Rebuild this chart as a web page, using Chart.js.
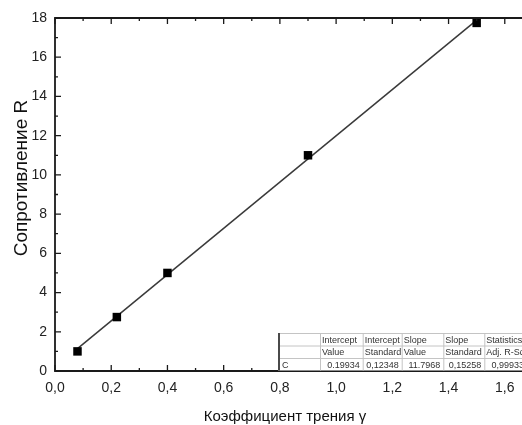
<!DOCTYPE html>
<html>
<head>
<meta charset="utf-8">
<script src="https://cdn.jsdelivr.net/npm/chart.js@4.4.0/dist/chart.umd.min.js"></script>
<style>
html, body { margin: 0; padding: 0; background: #fff; overflow: hidden; }
#wrap { width: 522px; height: 425px; overflow: hidden; }
</style>
</head>
<body>
<div id="wrap"><canvas id="fitChart" width="600" height="425"></canvas></div>
<script>
// measured points: friction coefficient vs resistance
const gammaValues = [0.08, 0.22, 0.4, 0.9, 1.5];
const resistValues = [1.0, 2.75, 5.0, 11.0, 17.75];
// linear fit line, end points
const fitX = [0.08, 1.5];
const fitY = [1.14, 17.89];
// tick labels
const xTicks = [0, 0.2, 0.4, 0.6, 0.8, 1.0, 1.2, 1.4, 1.6, 1.8];
const yTicks = [0, 2, 4, 6, 8, 10, 12, 14, 16, 18];
// Origin fit table
const tableHead1 = ["", "Intercept", "Intercept", "Slope", "Slope", "Statistics"];
const tableHead2 = ["", "Value", "Standard", "Value", "Standard", "Adj. R-Square"];
const tableRow = ["C", "0.19934", "0,12348", "11.7968", "0,15258", "0,99933"];

const xTitle = "Коэффициент трения γ";
const yTitle = "Сопротивление R";

const FONT = "'Liberation Sans', Arial, sans-serif";

// frame, inward ticks, fit table and axis titles
const decorPlugin = {
    id: 'decor',
    afterDatasetsDraw(chart) {
        const ctx = chart.ctx;
        const a = chart.chartArea;
        const sx = chart.scales.x, sy = chart.scales.y;
        ctx.save();
        ctx.strokeStyle = '#1a1a1a';
        ctx.lineWidth = 1.8;
        ctx.beginPath();
        ctx.moveTo(a.left, a.top); ctx.lineTo(a.left, a.bottom);
        ctx.lineTo(a.right, a.bottom); ctx.lineTo(a.right, a.top);
        ctx.closePath();
        ctx.stroke();

        ctx.lineWidth = 1.3;
        ctx.beginPath();
        for (let i = 0; i <= 18; i++) {
            const px = sx.getPixelForValue(i / 10);
            const len = i % 2 === 0 ? 6 : 3;
            ctx.moveTo(px, a.bottom); ctx.lineTo(px, a.bottom - len);
            ctx.moveTo(px, a.top); ctx.lineTo(px, a.top + len);
        }
        for (let j = 0; j <= 18; j++) {
            const py = sy.getPixelForValue(j);
            const len = j % 2 === 0 ? 6 : 3;
            ctx.moveTo(a.left, py); ctx.lineTo(a.left + len, py);
            ctx.moveTo(a.right, py); ctx.lineTo(a.right - len, py);
        }
        ctx.stroke();

        // fit table
        const cols = [278, 320, 362.7, 401.7, 443.3, 484.3, 527];
        const rows = [333, 345.5, 358, 370.5];
        ctx.fillStyle = '#fff';
        ctx.fillRect(cols[0], rows[0], cols[cols.length - 1] - cols[0], rows[3] - rows[0]);
        ctx.strokeStyle = '#c4c4c4';
        ctx.lineWidth = 1;
        ctx.beginPath();
        rows.slice(0, 3).forEach(r => { ctx.moveTo(cols[0], r + 0.5); ctx.lineTo(cols[6], r + 0.5); });
        cols.slice(1).forEach(c => { ctx.moveTo(c + 0.5, rows[0]); ctx.lineTo(c + 0.5, rows[3]); });
        ctx.stroke();
        ctx.strokeStyle = '#4a4a4a';
        ctx.lineWidth = 2;
        ctx.beginPath();
        ctx.moveTo(cols[0] + 1, rows[0]); ctx.lineTo(cols[0] + 1, rows[3]);
        ctx.stroke();

        ctx.font = '9px ' + FONT;
        ctx.fillStyle = '#333';
        ctx.textBaseline = 'middle';
        ctx.textAlign = 'left';
        for (let k = 0; k < 6; k++) {
            ctx.fillText(tableHead1[k], cols[k] + 2, (rows[0] + rows[1]) / 2 + 1);
            ctx.fillText(tableHead2[k], cols[k] + 2, (rows[1] + rows[2]) / 2 + 1);
        }
        ctx.fillText(tableRow[0], cols[0] + 4, (rows[2] + rows[3]) / 2 + 1);
        ctx.textAlign = 'right';
        for (let k = 1; k < 6; k++) {
            ctx.fillText(tableRow[k], cols[k + 1] - 3, (rows[2] + rows[3]) / 2 + 1);
        }

        // axis titles
        ctx.fillStyle = '#111';
        ctx.font = '15px ' + FONT;
        ctx.textAlign = 'center';
        ctx.textBaseline = 'middle';
        ctx.fillText(xTitle, 285, 417);
        ctx.font = '19px ' + FONT;
        ctx.translate(22, 178);
        ctx.rotate(-Math.PI / 2);
        ctx.fillText(yTitle, 0, 0);
        ctx.restore();
    }
};

const ctx = document.getElementById('fitChart');

new Chart(ctx, {
    type: 'scatter',
    data: {
        datasets: [{
            data: gammaValues.map((g, i) => ({x: g, y: resistValues[i]})),
            pointStyle: 'rect',
            pointRadius: 6,
            pointHoverRadius: 6,
            backgroundColor: '#000',
            borderColor: '#000',
            borderWidth: 0
        }, {
            type: 'line',
            data: fitX.map((g, i) => ({x: g, y: fitY[i]})),
            borderColor: '#3a3a3a',
            borderWidth: 1.5,
            pointRadius: 0,
            fill: false
        }]
    },
    options: {
        responsive: false,
        animation: false,
        devicePixelRatio: 1,
        layout: {padding: {top: 18, right: 39, left: 0, bottom: 0}},
        plugins: {
            legend: {display: false},
            tooltip: {enabled: false}
        },
        scales: {
            x: {
                type: 'linear',
                min: 0,
                max: 1.8,
                grid: {display: false, drawTicks: false},
                border: {display: false},
                afterBuildTicks: s => { s.ticks = xTicks.map(v => ({value: v})); },
                afterFit: s => { s.height = 54; s.paddingLeft = 0; s.paddingRight = 0; },
                ticks: {
                    padding: 9,
                    color: '#222',
                    font: {family: FONT, size: 14},
                    maxRotation: 0,
                    autoSkip: false,
                    callback: v => v.toFixed(1).replace('.', ',')
                }
            },
            y: {
                min: 0,
                max: 18,
                grid: {display: false, drawTicks: false},
                border: {display: false},
                afterBuildTicks: s => { s.ticks = yTicks.map(v => ({value: v})); },
                afterFit: s => { s.width = 55; s.paddingTop = 0; s.paddingBottom = 0; },
                ticks: {
                    padding: 8,
                    color: '#222',
                    font: {family: FONT, size: 14},
                    autoSkip: false,
                    callback: v => String(v)
                }
            }
        }
    },
    plugins: [decorPlugin]
});
</script>
</body>
</html>
